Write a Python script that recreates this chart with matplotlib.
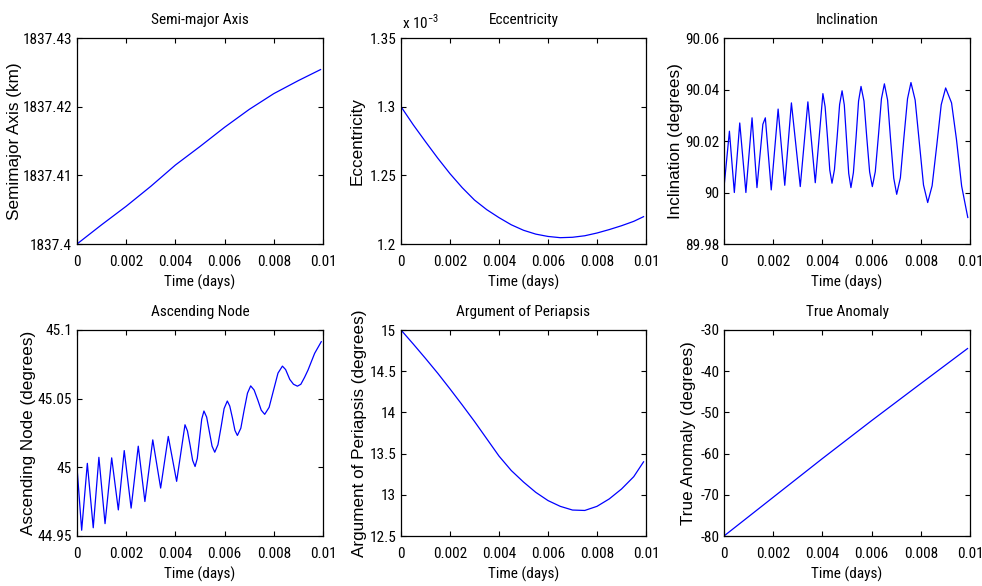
import matplotlib
matplotlib.use("Agg")
import matplotlib.pyplot as plt
from matplotlib import font_manager as fm
from matplotlib.ticker import FixedLocator, FuncFormatter

# ---- orbital element histories (time in days) ----
sma_t = [0, 0.001, 0.002, 0.003, 0.004, 0.005, 0.006, 0.007, 0.008, 0.009, 0.0099]
sma_km = [1837.4000, 1837.4028, 1837.4055, 1837.4084, 1837.4115, 1837.4142,
          1837.4170, 1837.4196, 1837.4219, 1837.4238, 1837.4254]

ecc_t = [0, 0.0005, 0.001, 0.0015, 0.002, 0.0025, 0.003, 0.0035, 0.004, 0.0045,
         0.005, 0.0055, 0.006, 0.0065, 0.007, 0.0075, 0.008, 0.0085, 0.009, 0.0095, 0.0099]
ecc_e3 = [1.3000, 1.2868, 1.2745, 1.2625, 1.2512, 1.2410, 1.2320, 1.2250, 1.2192, 1.2140,
          1.2100, 1.2072, 1.2055, 1.2046, 1.2049, 1.2060, 1.2080, 1.2105, 1.2133, 1.2165, 1.2199]

inc_t = [0, 0.00022, 0.00042, 0.00064, 0.00089, 0.00114, 0.00134, 0.00158, 0.00168, 0.00192,
         0.00220, 0.00247, 0.00274, 0.00310, 0.00341, 0.00371, 0.00402, 0.00411, 0.00421, 0.00430,
         0.00439, 0.00449, 0.00460, 0.00470, 0.00480, 0.00489, 0.00498, 0.00507, 0.00516, 0.00526,
         0.00537, 0.00547, 0.00557, 0.00569, 0.00580, 0.00592, 0.00603, 0.00615, 0.00628, 0.00640,
         0.00652, 0.00665, 0.00677, 0.00690, 0.00702, 0.00717, 0.00731, 0.00746, 0.00760, 0.00777,
         0.00794, 0.00811, 0.00828, 0.00846, 0.00865, 0.00883, 0.00901, 0.00925, 0.00945, 0.00966,
         0.00991]
inc_deg = [90.0020, 90.0238, 90.0000, 90.0270, 90.0000, 90.0290, 90.0019, 90.0265, 90.0290, 90.0010,
           90.0324, 90.0028, 90.0348, 90.0023, 90.0352, 90.0038, 90.0384, 90.0333, 90.0210, 90.0087,
           90.0036, 90.0089, 90.0216, 90.0342, 90.0395, 90.0340, 90.0207, 90.0074, 90.0019, 90.0077,
           90.0216, 90.0355, 90.0412, 90.0355, 90.0218, 90.0080, 90.0023, 90.0081, 90.0223, 90.0364,
           90.0422, 90.0359, 90.0208, 90.0056, 89.9993, 90.0057, 90.0210, 90.0364, 90.0427, 90.0359,
           90.0194, 90.0029, 89.9961, 90.0026, 90.0184, 90.0341, 90.0406, 90.0348, 90.0206, 90.0025,
           89.9903]

node_t = [0, 0.00019, 0.00042, 0.00066, 0.00089, 0.00114, 0.00141, 0.00168, 0.00192, 0.00220,
          0.00249, 0.00276, 0.00308, 0.00340, 0.00371, 0.00405, 0.00439, 0.00449, 0.00460, 0.00470,
          0.00480, 0.00489, 0.00498, 0.00507, 0.00516, 0.00527, 0.00538, 0.00549, 0.00560, 0.00573,
          0.00586, 0.00598, 0.00611, 0.00621, 0.00632, 0.00642, 0.00652, 0.00666, 0.00679, 0.00693,
          0.00706, 0.00720, 0.00735, 0.00749, 0.00763, 0.00781, 0.00799, 0.00817, 0.00835, 0.00848,
          0.00865, 0.00880, 0.00896, 0.00910, 0.00925, 0.00939, 0.00966, 0.00993]
node_deg = [45.0000, 44.9542, 45.0029, 44.9560, 45.0073, 44.9590, 45.0069, 44.9690, 45.0122, 44.9703,
            45.0154, 44.9751, 45.0200, 44.9849, 45.0225, 44.9898, 45.0310, 45.0265, 45.0158, 45.0051,
            45.0006, 45.0065, 45.0208, 45.0351, 45.0410, 45.0366, 45.0260, 45.0154, 45.0110, 45.0165,
            45.0297, 45.0428, 45.0483, 45.0446, 45.0358, 45.0269, 45.0232, 45.0285, 45.0413, 45.0540,
            45.0593, 45.0563, 45.0490, 45.0416, 45.0386, 45.0437, 45.0562, 45.0686, 45.0737, 45.0712,
            45.0640, 45.0605, 45.0591, 45.0605, 45.0655, 45.0708, 45.0830, 45.0915]

peri_t = [0, 0.0005, 0.001, 0.0015, 0.002, 0.0025, 0.003, 0.0035, 0.004, 0.0045,
          0.005, 0.0055, 0.006, 0.0065, 0.007, 0.0075, 0.008, 0.0085, 0.009, 0.0095, 0.0099]
peri_deg = [15.000, 14.830, 14.655, 14.475, 14.285, 14.090, 13.890, 13.680, 13.470, 13.295,
            13.155, 13.030, 12.930, 12.860, 12.815, 12.810, 12.860, 12.950, 13.070, 13.220, 13.400]

ta_t = [0, 0.002, 0.004, 0.006, 0.008, 0.0099]
ta_deg = [-80.0, -70.6, -61.2, -52.0, -43.0, -34.5]

time_ticks = [0, 0.002, 0.004, 0.006, 0.008, 0.01]
sma_ticks = [1837.40, 1837.41, 1837.42, 1837.43]
ecc_ticks = [1.20, 1.25, 1.30, 1.35]
inc_ticks = [89.98, 90.00, 90.02, 90.04, 90.06]
node_ticks = [44.95, 45.00, 45.05, 45.10]
peri_ticks = [12.5, 13.0, 13.5, 14.0, 14.5, 15.0]
ta_ticks = [-80, -70, -60, -50, -40, -30]


def narrow_font():
    """Return font kwargs for a narrow sans face, or None if none is installed."""
    for fam in ["Liberation Sans Narrow", "Arial Narrow", "Roboto Condensed",
                "Open Sans Condensed", "Noto Sans Condensed", "DejaVu Sans Condensed"]:
        try:
            fm.findfont(fm.FontProperties(family=fam), fallback_to_default=False)
            return {"family": fam}
        except ValueError:
            pass
    for f in fm.fontManager.ttflist:
        if f.stretch in ("condensed", "semi-condensed", "extra-condensed") and \
                f.style == "normal" and f.weight in (400, "normal", "regular"):
            return {"family": f.name, "stretch": f.stretch}
    return None


nf = narrow_font()
if nf is None:
    TICK = {"family": ["Liberation Sans", "DejaVu Sans"], "size": 9.5}
    TITLE = {"family": ["Liberation Sans", "DejaVu Sans"], "size": 9.5}
else:
    TICK = dict(nf, size=11)
    TITLE = dict(nf, size=11)
WIDE = {"family": ["Liberation Sans", "DejaVu Sans"], "size": 12.3}

W, H = 982, 586
fig = plt.figure(figsize=(W / 100, H / 100), dpi=100, facecolor="white")

# axes boxes in pixels: left, top, width, height
col_left = [77, 401, 724]
col_width = [246, 245, 246]
row_top = [38, 330]
box_h = 206

panels = [
    (sma_t, sma_km, "Semi-major Axis", "Semimajor Axis (km)", sma_ticks, -0.222),
    (ecc_t, ecc_e3, "Eccentricity", "Eccentricity", ecc_ticks, -0.15),
    (inc_t, inc_deg, "Inclination", "Inclination (degrees)", inc_ticks, -0.165),
    (node_t, node_deg, "Ascending Node", "Ascending Node (degrees)", node_ticks, -0.165),
    (peri_t, peri_deg, "Argument of Periapsis", "Argument of Periapsis (degrees)", peri_ticks, -0.14),
    (ta_t, ta_deg, "True Anomaly", "True Anomaly (degrees)", ta_ticks, -0.112),
]

fmt = FuncFormatter(lambda v, p: "%g" % round(v, 6))

for i, (t, y, title, ylabel, yticks, ylab_x) in enumerate(panels):
    r, c = divmod(i, 3)
    l, top = col_left[c], row_top[r]
    ax = fig.add_axes([l / W, 1 - (top + box_h) / H, col_width[c] / W, box_h / H])
    ax.plot(t, y, color="#0000ff", lw=0.9)
    ax.set_xlim(0, 0.01)
    ax.set_ylim(yticks[0], yticks[-1])
    ax.xaxis.set_major_locator(FixedLocator(time_ticks))
    ax.yaxis.set_major_locator(FixedLocator(yticks))
    ax.xaxis.set_major_formatter(fmt)
    ax.yaxis.set_major_formatter(fmt)
    ax.tick_params(direction="in", length=3.5, width=0.8, top=True, right=True, colors="black")
    ax.tick_params(axis="x", pad=8)
    ax.tick_params(axis="y", pad=3.5)
    for lab in ax.get_xticklabels() + ax.get_yticklabels():
        lab.set_fontproperties(fm.FontProperties(**TICK))
    for s in ax.spines.values():
        s.set_linewidth(0.9)
        s.set_color("black")
    ax.set_title(title, pad=10, fontproperties=fm.FontProperties(**TITLE))
    ax.set_xlabel("Time (days)", labelpad=4, fontproperties=fm.FontProperties(**TITLE))
    ax.set_ylabel(ylabel, fontproperties=fm.FontProperties(**WIDE))
    ax.yaxis.set_label_coords(ylab_x, 0.5)
    if i == 1:
        ax.text(0.003, 1.03, r"x 10$^{\mathregular{-3}}$", transform=ax.transAxes,
                ha="left", va="bottom", fontproperties=fm.FontProperties(**TICK))

fig.savefig("out.png", dpi=100, facecolor="white")
